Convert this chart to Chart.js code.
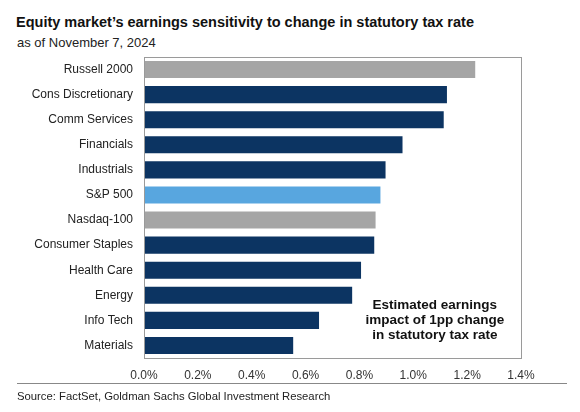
<!DOCTYPE html>
<html>
<head>
<meta charset="utf-8">
<script src="https://cdn.jsdelivr.net/npm/chart.js@4.4.1/dist/chart.umd.min.js"></script>
<style>
	html, body { margin: 0; padding: 0; background: #fff; }
	body { width: 580px; height: 412px; position: relative; overflow: hidden; font-family: "Liberation Sans", Arial, sans-serif; }
	#title { position: absolute; left: 16px; top: 14px; font-size: 14.5px; line-height: 17px; font-weight: bold; color: #111; white-space: nowrap; }
	#subtitle { position: absolute; left: 17px; top: 35px; font-size: 13px; line-height: 15px; color: #222; white-space: nowrap; }
	#wrap { position: absolute; left: 0; top: 0; width: 580px; height: 390px; }
	#rule { position: absolute; left: 17px; top: 383px; width: 550px; height: 0; border-top: 1px solid #888; }
	#source { position: absolute; left: 17px; top: 390px; font-size: 11.3px; line-height: 13px; color: #222; white-space: nowrap; }
</style>
</head>
<body>
<div id="title">Equity market’s earnings sensitivity to change in statutory tax rate</div>
<div id="subtitle">as of November 7, 2024</div>
<div id="wrap"><canvas id="chart" width="580" height="390"></canvas></div>
<div id="rule"></div>
<div id="source">Source: FactSet, Goldman Sachs Global Investment Research</div>
<script>
;(function () {
	'use strict';

	// Data (percent change in earnings per 1pp of tax rate)
	var categories = ['Russell 2000', 'Cons Discretionary', 'Comm Services', 'Financials', 'Industrials',
		'S&P 500', 'Nasdaq-100', 'Consumer Staples', 'Health Care', 'Energy', 'Info Tech', 'Materials'];
	var values = [1.23, 1.125, 1.113, 0.96, 0.897, 0.878, 0.86, 0.855, 0.806, 0.773, 0.65, 0.554];
	var groups = ['index', 'sector', 'sector', 'sector', 'sector', 'sp', 'index', 'sector', 'sector', 'sector', 'sector', 'sector'];
	var xTicks = [0, 0.2, 0.4, 0.6, 0.8, 1.0, 1.2, 1.4];
	var noteLines = ['Estimated earnings', 'impact of 1pp change', 'in statutory tax rate'];

	var palette = {
		sector: '#0c3462',
		sp: '#58a6df',
		index: '#a5a5a5'
	};

	var colors = groups.map(function (g) { return palette[g]; });

	var boxPlugin = {
		id: 'box',
		afterDraw: function (chart) {
			var ctx = chart.ctx,
				a = chart.chartArea;
			ctx.save();
			ctx.strokeStyle = '#9a9a9a';
			ctx.lineWidth = 1;
			ctx.strokeRect(Math.round(a.left) + 0.5, Math.round(a.top) + 0.5,
				Math.round(a.right - a.left), Math.round(a.bottom - a.top));
			ctx.restore();
		}
	};

	var notePlugin = {
		id: 'note',
		afterDraw: function (chart) {
			var ctx = chart.ctx,
				x = chart.scales.x.getPixelForValue(1.08),
				yMid = chart.scales.y.getPixelForValue(10) - 0.5;
			ctx.save();
			ctx.font = 'bold 13.5px "Liberation Sans", Arial, sans-serif';
			ctx.fillStyle = '#111';
			ctx.textAlign = 'center';
			ctx.textBaseline = 'middle';
			noteLines.forEach(function (line, i) {
				ctx.fillText(line, x, yMid + (i - 1) * 15);
			});
			ctx.restore();
		}
	};

	new Chart(document.getElementById('chart'), {
		type: 'bar',
		data: {
			labels: categories,
			datasets: [{
				data: values,
				backgroundColor: colors,
				borderWidth: 0,
				categoryPercentage: 1,
				barPercentage: 0.68
			}]
		},
		options: {
			indexAxis: 'y',
			responsive: false,
			animation: false,
			layout: {
				padding: { top: 57, right: 59, bottom: 0, left: 0 }
			},
			plugins: {
				legend: { display: false },
				tooltip: { enabled: false }
			},
			scales: {
				x: {
					min: 0,
					max: 1.4,
					afterBuildTicks: function (axis) {
						axis.ticks = xTicks.map(function (v) { return { value: v }; });
					},
					afterFit: function (axis) { axis.height = 32; },
					grid: { display: false },
					border: { display: false },
					ticks: {
						color: '#333',
						padding: 2,
						font: { size: 12, family: '"Liberation Sans", Arial, sans-serif' },
						callback: function (v) { return v.toFixed(1) + '%'; }
					}
				},
				y: {
					afterFit: function (axis) { axis.width = 144; },
					grid: { display: false },
					border: { display: false },
					ticks: {
						color: '#222',
						padding: 3,
						font: { size: 12, family: '"Liberation Sans", Arial, sans-serif' }
					}
				}
			}
		},
		plugins: [boxPlugin, notePlugin]
	});
})();
</script>
</body>
</html>
